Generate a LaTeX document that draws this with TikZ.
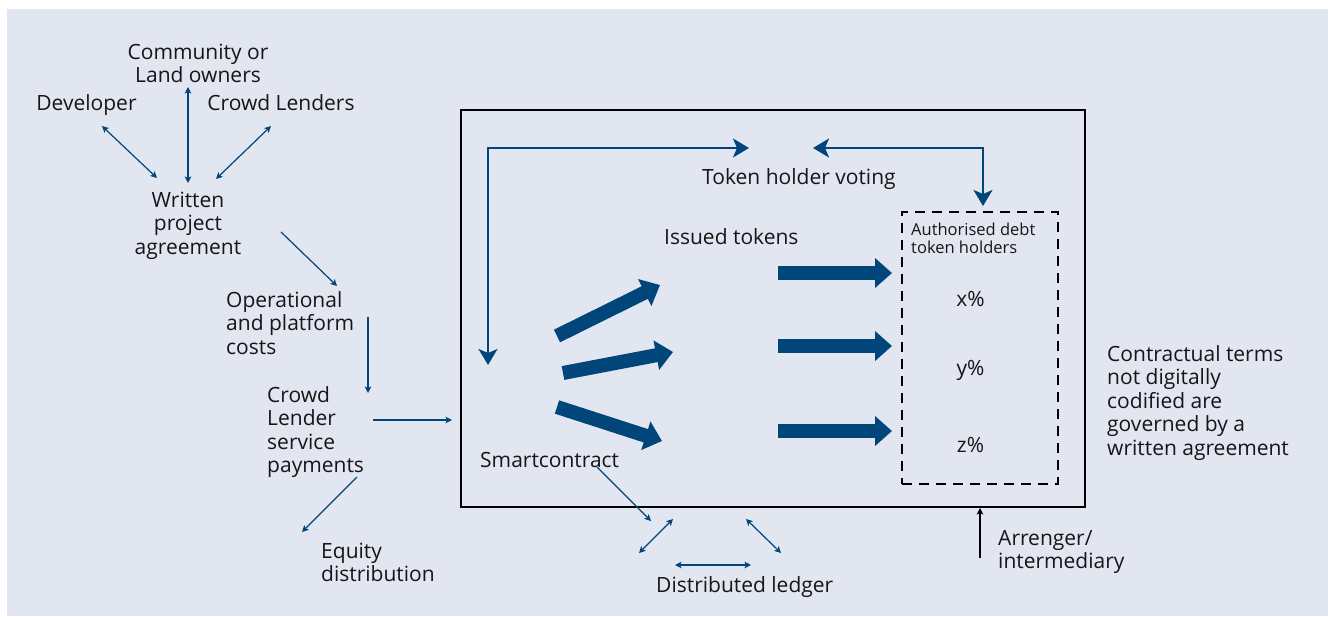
\documentclass[tikz,border=0pt]{standalone}
\usepackage{fontspec}
\setmainfont{Open Sans}
\usetikzlibrary{arrows.meta}
\definecolor{bgc}{RGB}{225,230,241}
\definecolor{navy}{RGB}{0,70,122}
\definecolor{ink}{RGB}{22,22,22}
\tikzset{
  smalltip/.tip={Stealth[length=6.5pt,width=6.5pt,inset=1.5pt]},
  bigtip/.tip={Stealth[length=16pt,width=19pt,inset=4pt]},
  fattip/.tip={Triangle[length=17pt,width=29pt]},
}
\begin{document}
\begin{tikzpicture}[x=1pt,y=-1pt,
  lbl/.style={inner sep=0pt, text=ink, font=\fontsize{21}{23.6}\selectfont},
  small/.style={inner sep=0pt, text=ink, font=\fontsize{16.5}{18.4}\selectfont},
  flow/.style={draw=navy, line width=1.2pt, -smalltip},
  both/.style={draw=navy, line width=1.2pt, smalltip-smalltip},
  loopline/.style={draw=navy, line width=2pt, bigtip-bigtip},
  fat/.style={draw=navy, line width=14pt, -fattip},
  framebox/.style={draw=black, line width=2pt, inner sep=0pt},
  dashbox/.style={draw=black, line width=2pt, dash pattern=on 10pt off 7pt, inner sep=0pt},
]
\useasboundingbox (0,0) rectangle (1328,616);
\fill[white] (0,0) rectangle (1328,616);
\fill[bgc] (7,9) rectangle (1328,616);

% frames
\node[framebox, minimum width=624pt, minimum height=397pt] (box) at (773,308.5) {};
\node[dashbox, minimum width=156pt, minimum height=272pt] (auth) at (980,348) {};

% left texts (base anchor = last line baseline)
\node[lbl, anchor=base, align=center] (comm) at (198,82.6) {Community or\\Land owners};
\node[lbl, anchor=base] (dev) at (86.5,110) {Developer};
\node[lbl, anchor=base] (lenders) at (281,110) {Crowd Lenders};
\node[lbl, anchor=base, align=center] (wpa) at (188,254.2) {Written\\project\\agreement};
\node[lbl, anchor=base west, align=left] (ops) at (226,354.2) {Operational\\and platform\\costs};
\node[lbl, anchor=base west, align=left] (cls) at (267,472.8) {Crowd\\Lender\\service\\payments};
\node[lbl, anchor=base west, align=left] (eq) at (321,581.6) {Equity\\distribution};

% inner texts
\node[lbl, anchor=base west] (vote) at (702,184) {Token holder voting};
\node[lbl, anchor=base west] (issued) at (664,244) {Issued tokens};
\node[lbl, anchor=base west] (smart) at (480,467) {Smartcontract};
\node[small, anchor=base west, align=left] (authtxt) at (911,253.4) {Authorised debt\\token holders};
\node[lbl, anchor=base] (px) at (970.5,306.5) {x\%};
\node[lbl, anchor=base] (py) at (970.5,375) {y\%};
\node[lbl, anchor=base] (pz) at (970.5,452) {z\%};

% right / bottom texts
\node[lbl, anchor=base west, align=left] (terms) at (1107,455.4) {Contractual terms\\not digitally\\codified are\\governed by a\\written agreement};
\node[lbl, anchor=base west, align=left] (arr) at (998,568.6) {Arrenger/\\intermediary};
\node[lbl, anchor=base west] (ledger) at (656,592) {Distributed ledger};

% coordinates for thin connectors
\coordinate (d1) at (102,126);  \coordinate (d2) at (157,178);
\coordinate (c1) at (188,87);   \coordinate (c2) at (188,183);
\coordinate (l1) at (271,126);  \coordinate (l2) at (216,179);
\coordinate (w1) at (281,232);  \coordinate (w2) at (337,286);
\coordinate (o1) at (368,317);  \coordinate (o2) at (368,393);
\coordinate (p1) at (373,420);  \coordinate (p2) at (452,420);
\coordinate (e1) at (357,477);  \coordinate (e2) at (302,532);
\coordinate (s1) at (597,467);  \coordinate (s2) at (651,521);
\coordinate (g1) at (673,519);  \coordinate (g2) at (639,553);
\coordinate (h1) at (746,519);  \coordinate (h2) at (781,553);
\coordinate (k1) at (675,565);  \coordinate (k2) at (751,565);
\coordinate (a1) at (980,558);  \coordinate (a2) at (980,508);

\draw[both] (d1) -- (d2);
\draw[both] (c1) -- (c2);
\draw[both] (l1) -- (l2);
\draw[flow] (w1) -- (w2);
\draw[flow] (o1) -- (o2);
\draw[flow] (p1) -- (p2);
\draw[flow] (e1) -- (e2);
\draw[flow] (s1) -- (s2);
\draw[both] (g1) -- (g2);
\draw[both] (h1) -- (h2);
\draw[both] (k1) -- (k2);
\draw[flow, draw=black] (a1) -- (a2);

% voting loop
\coordinate (vl1) at (488,365); \coordinate (vl2) at (749,148);
\coordinate (vr1) at (813,148); \coordinate (vr2) at (983,206);
\draw[loopline] (vl1) |- (vl2);
\draw[loopline] (vr1) -| (vr2);

% fat arrows
\coordinate (f1a) at (557,336); \coordinate (f1b) at (660,285);
\coordinate (f2a) at (563,373); \coordinate (f2b) at (673,352);
\coordinate (f3a) at (557,407); \coordinate (f3b) at (662,441);
\coordinate (t1a) at (778,273); \coordinate (t1b) at (892,273);
\coordinate (t2a) at (778,346); \coordinate (t2b) at (892,346);
\coordinate (t3a) at (778,431); \coordinate (t3b) at (892,431);
\draw[fat] (f1a) -- (f1b);
\draw[fat] (f2a) -- (f2b);
\draw[fat] (f3a) -- (f3b);
\draw[fat] (t1a) -- (t1b);
\draw[fat] (t2a) -- (t2b);
\draw[fat] (t3a) -- (t3b);
\end{tikzpicture}
\end{document}
